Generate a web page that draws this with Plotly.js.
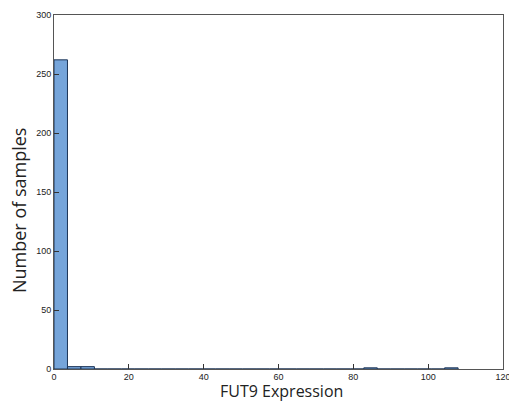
<!DOCTYPE html>
<html>
<head>
<meta charset="utf-8">
<script src="https://cdn.plot.ly/plotly-3.0.1.min.js"></script>
<style>html,body{margin:0;padding:0;background:#fff;}#chart{width:509px;height:401px;}</style>
</head>
<body>
<div id="chart"></div>
<script>
// Histogram of FUT9 expression: 30 bins of width 3.6 from 0 to 108
const binWidth = 3.6;
const binStarts = [0,3.6,7.2,10.8,14.4,18,21.6,25.2,28.8,32.4,36,39.6,43.2,46.8,50.4,54,57.6,61.2,64.8,68.4,72,75.6,79.2,82.8,86.4,90,93.6,97.2,100.8,104.4];
const counts = [262,2,2,0,0,0,0,0,0,0,0,0,0,0,0,0,0,0,0,0,0,0,0,1,0,0,0,0,0,1];
const xTicks = [0,20,40,60,80,100,120];
const yTicks = [0,50,100,150,200,250,300];
const xTitle = 'FUT9 Expression';
const yTitle = 'Number of samples';

const centers = binStarts.map(s => s + binWidth/2);

const trace = {
  type: 'bar',
  x: centers,
  y: counts,
  width: binWidth,
  marker: {color: '#76a5da', line: {color: '#1d3557', width: 1}},
  hoverinfo: 'x+y'
};

const axisFont = {family: 'Liberation Sans, Arial, sans-serif', size: 9, color: '#222'};
const titleFont = {family: 'Open Sans, Liberation Sans, sans-serif', color: '#222'};
const layout = {
  width: 509, height: 401,
  margin: {l: 54, r: 6, t: 15, b: 32},
  paper_bgcolor: '#fff', plot_bgcolor: '#fff',
  showlegend: false,
  bargap: 0,
  xaxis: {
    range: [0, 120], tickvals: xTicks, ticktext: xTicks.map(String),
    ticks: 'inside', ticklen: 5, tickcolor: '#333', tickwidth: 1,
    showline: true, linecolor: '#555', linewidth: 1, mirror: true,
    showgrid: false, zeroline: false, tickfont: axisFont,
    ticklabeloverflow: 'allow', ticklabelstandoff: -1
  },
  yaxis: {
    range: [0, 300], tickvals: yTicks, ticktext: yTicks.map(String),
    ticks: 'inside', ticklen: 5, tickcolor: '#333', tickwidth: 1,
    showline: true, linecolor: '#555', linewidth: 1, mirror: true,
    showgrid: false, zeroline: false, tickfont: axisFont
  },
  annotations: [
    {text: xTitle, xref: 'paper', yref: 'paper', x: 0.5056, y: -0.062,
     xanchor: 'center', yanchor: 'middle', showarrow: false,
     font: Object.assign({size: 16}, titleFont)},
    {text: yTitle, xref: 'paper', yref: 'paper', x: -0.078, y: 0.449,
     xanchor: 'center', yanchor: 'middle', showarrow: false, textangle: -90,
     font: Object.assign({size: 18}, titleFont)}
  ]
};

Plotly.newPlot('chart', [trace], layout, {displayModeBar: false, staticPlot: true});
</script>
</body>
</html>
